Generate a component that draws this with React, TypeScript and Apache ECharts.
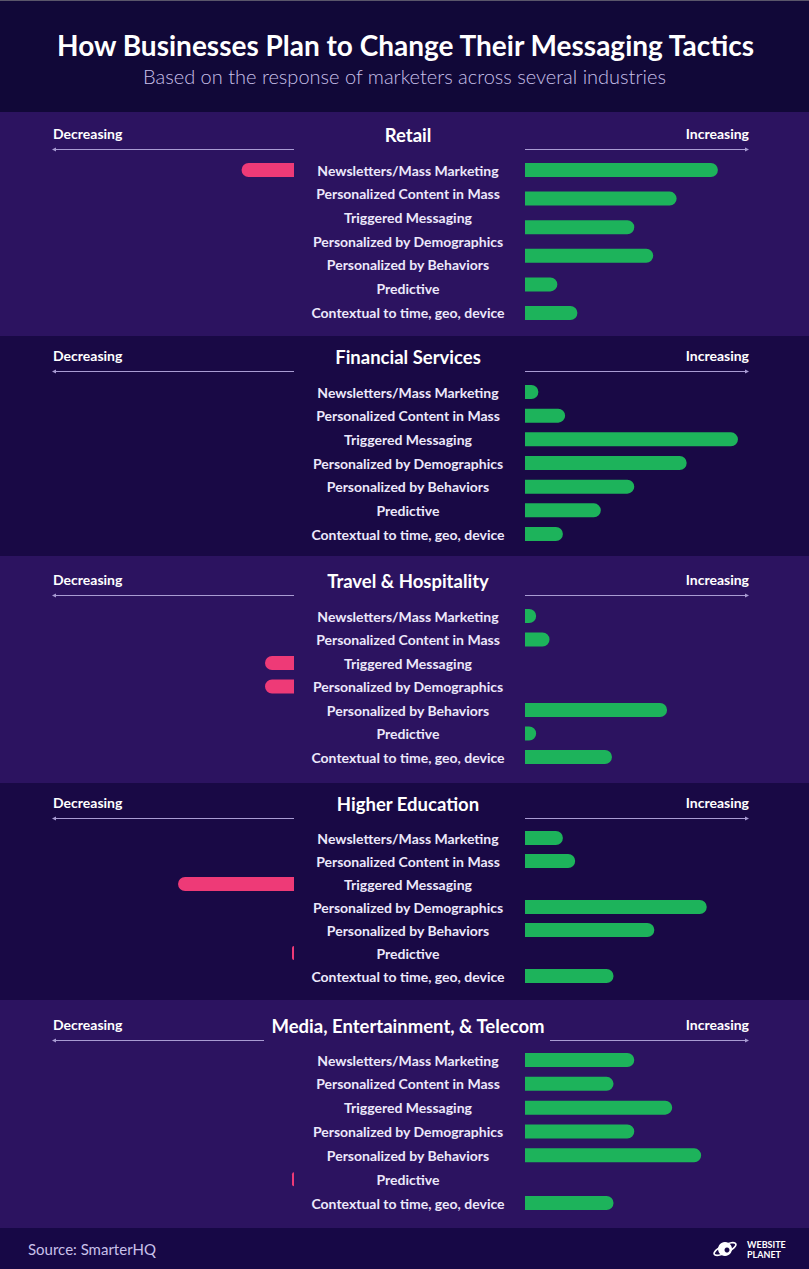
import React, { useEffect, useRef } from "react";
import * as echarts from "echarts";

const categories = [
  "Newsletters/Mass Marketing",
  "Personalized Content in Mass",
  "Triggered Messaging",
  "Personalized by Demographics",
  "Personalized by Behaviors",
  "Predictive",
  "Contextual to time, geo, device",
];

const industries = [
  "Retail",
  "Financial Services",
  "Travel & Hospitality",
  "Higher Education",
  "Media, Entertainment, & Telecom",
];

// Retail increasing bars are drawn as six evenly spaced bars in the source
const retailIncreasingSlots = ["1", "2", "3", "4", "5", "6"];
const retailIncreasing = [86.5, 68, 49, 57.5, 14.5, 23.5];
const retailDecreasing = [23.5, 0, 0, 0, 0, 0, 0];

const financialIncreasing = [6, 18, 95.5, 72.5, 49, 34, 17];
const financialDecreasing = [0, 0, 0, 0, 0, 0, 0];

const travelIncreasing = [5, 11, 0, 0, 63.7, 5, 39];
const travelDecreasing = [0, 0, 13, 13, 0, 0, 0];

const educationIncreasing = [17, 22.5, 0, 81.5, 58, 0, 39.7];
const educationDecreasing = [0, 0, 52, 0, 0, 0.9, 0];

const mediaIncreasing = [49, 39.7, 66, 49, 79, 0, 39.7];
const mediaDecreasing = [0, 0, 0, 0, 0, 0.9, 0];

const increasingSets = [retailIncreasing, financialIncreasing, travelIncreasing, educationIncreasing, mediaIncreasing];
const decreasingSets = [retailDecreasing, financialDecreasing, travelDecreasing, educationDecreasing, mediaDecreasing];

// layout (pixels)
const W = 809;
const H = 1269;
const panels = [
  { top: 112, bottom: 336, titleY: 135, first: 170, last: 312, leftEnd: 294, rightStart: 525, bg: "#2c1360" },
  { top: 336, bottom: 556, titleY: 357, first: 392, last: 534, leftEnd: 294, rightStart: 525, bg: "#190945" },
  { top: 556, bottom: 783, titleY: 581, first: 616, last: 757, leftEnd: 294, rightStart: 525, bg: "#2c1360" },
  { top: 783, bottom: 1000, titleY: 804, first: 838, last: 976, leftEnd: 294, rightStart: 525, bg: "#190945" },
  { top: 1000, bottom: 1228, titleY: 1026, first: 1060, last: 1203, leftEnd: 264, rightStart: 550, bg: "#2c1360" },
];
const retailBarRows = { first: 170, last: 313 };

const GREEN = "#1db35b";
const PINK = "#ee3a77";
const LINE = "#a99cd3";
const LABEL = "#ece8fb";
const FONT = "Lato, 'Noto Sans', sans-serif";
const BAR_X0 = 525;
const BAR_W = 223;
const MAX = 100;

function rowsBox(first: number, last: number, n: number) {
  const step = (last - first) / (n - 1);
  return { top: first - step / 2, height: step * n };
}

function txt(x: number, y: number, text: string, font: string, fill: string, align: string) {
  return {
    type: "text", x, y,
    style: { text, fill, font, align, verticalAlign: "middle", textAlign: align, textVerticalAlign: "middle" },
  };
}

export default function App() {
  const ref = useRef<HTMLDivElement>(null);

  useEffect(() => {
    if (!ref.current) return;
    const chart = echarts.init(ref.current, null, { renderer: "svg", width: W, height: H });

    const grids: any[] = [];
    const xAxes: any[] = [];
    const yAxes: any[] = [];
    const series: any[] = [];
    const elements: any[] = [];

    // backgrounds
    elements.push({ type: "rect", shape: { x: 0, y: 0, width: W, height: 112 }, style: { fill: "#110838" }, z: -10 });
    elements.push({ type: "rect", shape: { x: 0, y: 0, width: W, height: 1 }, style: { fill: "#5a566a" }, z: -9 });
    elements.push({ type: "rect", shape: { x: 0, y: 1228, width: W, height: H - 1228 }, style: { fill: "#170846" }, z: -10 });

    elements.push(txt(W / 2 + 1, 45, "How Businesses Plan to Change Their Messaging Tactics", `bold 28px ${FONT}`, "#ffffff", "center"));
    elements.push(txt(W / 2, 76, "Based on the response of marketers across several industries", `300 20px ${FONT}`, "#c9c0ea", "center"));

    panels.forEach((p, i) => {
      elements.push({ type: "rect", shape: { x: 0, y: p.top, width: W, height: p.bottom - p.top }, style: { fill: p.bg }, z: -10 });
      elements.push(txt(408, p.titleY, industries[i], `bold 18.5px ${FONT}`, "#ffffff", "center"));
      elements.push(txt(53, p.titleY - 2, "Decreasing", `bold 14px ${FONT}`, "#ffffff", "left"));
      elements.push(txt(749, p.titleY - 2, "Increasing", `bold 14px ${FONT}`, "#ffffff", "right"));
      const ly = p.titleY + 14 + 0.5;
      elements.push({ type: "line", shape: { x1: 54, y1: ly, x2: p.leftEnd, y2: ly }, style: { stroke: LINE, lineWidth: 1 } });
      elements.push({ type: "polygon", shape: { points: [[52, ly], [56, ly - 2], [56, ly + 2]] }, style: { fill: LINE } });
      elements.push({ type: "line", shape: { x1: p.rightStart, y1: ly, x2: 747, y2: ly }, style: { stroke: LINE, lineWidth: 1 } });
      elements.push({ type: "polygon", shape: { points: [[749, ly], [745, ly - 2], [745, ly + 2]] }, style: { fill: LINE } });

      const box = rowsBox(p.first, p.last, categories.length);

      // right grid (labels + increasing bars)
      const gR = grids.length;
      grids.push({ left: BAR_X0, width: BAR_W, top: box.top, height: box.height, containLabel: false });
      xAxes.push({ type: "value", gridIndex: gR, min: 0, max: MAX, show: false });
      const yR = yAxes.length;
      yAxes.push({
        type: "category", gridIndex: gR, data: categories, inverse: true,
        axisLine: { show: false }, axisTick: { show: false }, splitLine: { show: false },
        axisLabel: { show: true, align: "center", margin: BAR_X0 - 408, color: LABEL, fontFamily: FONT, fontWeight: "bold", fontSize: 14 },
      });

      // left grid (decreasing bars)
      const gL = grids.length;
      grids.push({ left: 294 - BAR_W, width: BAR_W, top: box.top, height: box.height, containLabel: false });
      xAxes.push({ type: "value", gridIndex: gL, min: 0, max: MAX, inverse: true, show: false });
      const yL = yAxes.length;
      yAxes.push({ type: "category", gridIndex: gL, data: categories, inverse: true, show: false });

      series.push({
        type: "bar", name: industries[i] + " decreasing", xAxisIndex: gL, yAxisIndex: yL,
        data: decreasingSets[i].map((v) => (v > 0 ? v : "-")),
        barWidth: 14, clip: false,
        itemStyle: { color: PINK, borderRadius: [7, 0, 0, 7] },
      });

      if (i === 0) {
        const rb = rowsBox(retailBarRows.first, retailBarRows.last, retailIncreasingSlots.length);
        const gX = grids.length;
        grids.push({ left: BAR_X0, width: BAR_W, top: rb.top, height: rb.height, containLabel: false });
        xAxes.push({ type: "value", gridIndex: gX, min: 0, max: MAX, show: false });
        const yX = yAxes.length;
        yAxes.push({ type: "category", gridIndex: gX, data: retailIncreasingSlots, inverse: true, show: false });
        series.push({
          type: "bar", name: industries[i] + " increasing", xAxisIndex: gX, yAxisIndex: yX,
          data: retailIncreasing, barWidth: 14, clip: false,
          itemStyle: { color: GREEN, borderRadius: [0, 7, 7, 0] },
        });
      } else {
        series.push({
          type: "bar", name: industries[i] + " increasing", xAxisIndex: gR, yAxisIndex: yR,
          data: increasingSets[i].map((v) => (v > 0 ? v : "-")),
          barWidth: 14, clip: false,
          itemStyle: { color: GREEN, borderRadius: [0, 7, 7, 0] },
        });
      }
    });

    // footer
    elements.push(txt(28, 1249, "Source: SmarterHQ", `15px ${FONT}`, "#c9c0ea", "left"));
    elements.push({ type: "circle", shape: { cx: 725, cy: 1249, r: 7 }, style: { fill: "#ffffff" } });
    elements.push({ type: "ellipse", shape: { cx: 0, cy: 0, rx: 12, ry: 4 }, x: 725, y: 1249, rotation: 0.45, style: { fill: "none", stroke: "#ffffff", lineWidth: 1.6 } });
    elements.push({ type: "circle", shape: { cx: 727, cy: 1250, r: 2.5 }, style: { fill: "#170846" } });
    elements.push(txt(747, 1244, "WEBSITE", `bold 9px ${FONT}`, "#ffffff", "left"));
    elements.push(txt(747, 1254, "PLANET", `bold 9px ${FONT}`, "#ffffff", "left"));

    chart.setOption({
      animation: false,
      backgroundColor: "#190945",
      grid: grids,
      xAxis: xAxes,
      yAxis: yAxes,
      series,
      graphic: { elements },
    });

    return () => chart.dispose();
  }, []);

  return <div ref={ref} style={{ position: "absolute", left: 0, top: 0, width: W, height: H }} />;
}
